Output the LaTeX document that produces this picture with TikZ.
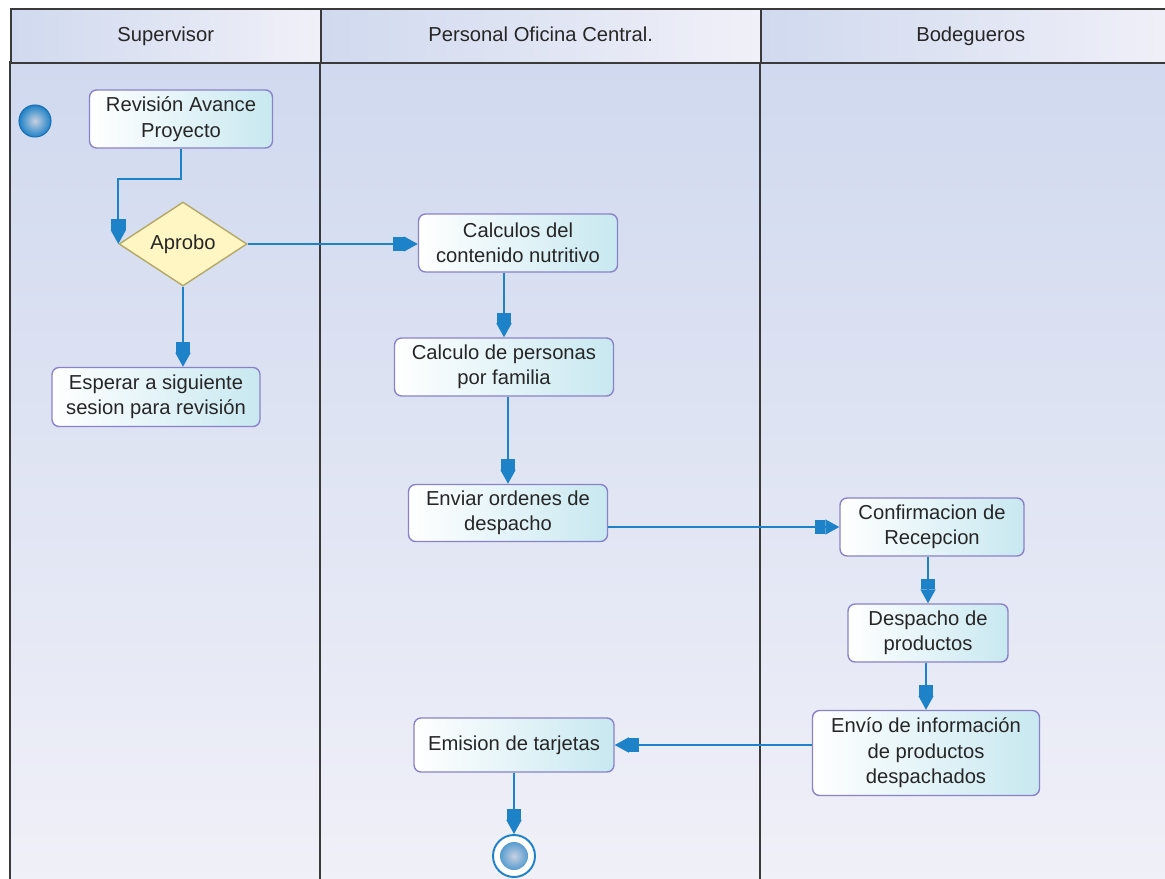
\documentclass[tikz,border=0pt]{standalone}
\usepackage{fontspec}
\setmainfont{Liberation Sans}
\usetikzlibrary{shapes.geometric, arrows.meta, positioning}

\definecolor{laneblue}{HTML}{D0D9EF}
\definecolor{lanepale}{HTML}{F0F0F8}
\definecolor{flowblue}{HTML}{1E82C8}
\definecolor{initedge}{HTML}{1B6FB0}
\definecolor{initlight}{HTML}{C8D0E0}
\definecolor{boxedge}{HTML}{8A82C8}
\definecolor{boxcyan}{HTML}{C8E8F0}
\definecolor{decfill}{HTML}{FFF6C4}
\definecolor{decedge}{HTML}{B4A864}
\definecolor{framegray}{HTML}{3A3A3A}

\begin{document}
\begin{tikzpicture}[
            x=0.02cm, y=-0.02cm,
            every node/.style={font=\fontsize{11.5}{14.5}\selectfont, text=black!85},
            activity/.style={
                rectangle,
                draw=boxedge,
                line width=0.8pt,
                rounded corners=4pt,
                align=center,
                inner sep=2pt,
                left color=white,
                right color=boxcyan
            },
            decision/.style={
                diamond,
                draw=decedge,
                line width=0.8pt,
                fill=decfill,
                minimum width=2.56cm,
                minimum height=1.56cm,
                inner sep=0pt
            },
            header/.style={
                rectangle,
                draw=framegray,
                line width=0.9pt,
                minimum height=1.08cm,
                text height=1.6ex,
                text depth=0.45ex,
                anchor=north west,
                left color=laneblue,
                right color=lanepale
            },
            lane/.style={draw=framegray, line width=0.9pt, top color=laneblue, bottom color=lanepale},
            initial/.style={circle, draw=initedge, line width=0.6pt, inner color=initlight, outer color=flowblue, minimum size=0.64cm, inner sep=0pt},
            final/.style={circle, draw=flowblue, line width=1.1pt, fill=white, minimum size=0.84cm, inner sep=0pt,
                path picture={\shade[inner color=initlight, outer color=flowblue] (path picture bounding box.center) circle (0.28cm);}},
            flow/.style={draw=flowblue, line width=1.1pt, -{Rectangle[length=6pt,width=8.5pt]Triangle[length=8pt,width=8.5pt]}}
        ]
        \useasboundingbox (0,0) rectangle (1165,878);
        \clip (0,0) rectangle (1165,878);
        \fill[white] (0,0) rectangle (1165,878);

        % Lanes
        \path[lane] (10,62) rectangle (320,890);
        \path[lane] (320,62) rectangle (760,890);
        \path[lane] (760,62) rectangle (1180,890);
        \node[header, minimum width=6.2cm] (hsup) at (10,8) {Supervisor};
        \node[header, minimum width=8.8cm] (hofi) at (320,8) {Personal Oficina Central.};
        \node[header, minimum width=8.4cm] (hbod) at (760,8) {Bodegueros};

        % Nodes
        \node[initial] (start) at (35,121) {};
        \node[activity, minimum width=3.66cm, minimum height=1.16cm] (revision) at (181,119) {Revisión Avance\\Proyecto};
        \node[decision] (aprobo) at (183,244) {Aprobo};
        \node[activity, minimum width=4.16cm, minimum height=1.18cm] (esperar) at (156,397) {Esperar a siguiente\\sesion para revisión};
        \node[activity, minimum width=3.98cm, minimum height=1.16cm] (contenido) at (518,243) {Calculos del\\contenido nutritivo};
        \node[activity, minimum width=4.38cm, minimum height=1.16cm] (personas) at (504,367) {Calculo de personas\\por familia};
        \node[activity, minimum width=3.98cm, minimum height=1.14cm] (ordenes) at (508,513) {Enviar ordenes de\\despacho};
        \node[activity, minimum width=3.68cm, minimum height=1.16cm] (confirma) at (932,527) {Confirmacion de\\Recepcion};
        \node[activity, minimum width=3.2cm, minimum height=1.16cm] (despacho) at (928,633) {Despacho de\\productos};
        \node[activity, minimum width=4.54cm, minimum height=1.7cm] (envio) at (926,753) {Envío de información\\de productos\\despachados};
        \node[activity, minimum width=4.0cm, minimum height=1.08cm] (tarjetas) at (514,745) {Emision de tarjetas};
        \node[final] (fin) at (514,856) {};

        % Arrows
        \draw[flow] (revision.south) -- ++(0,30) -| (aprobo.west);
        \draw[flow] (aprobo.south) -- (aprobo.south |- esperar.north);
        \draw[flow] (aprobo.east) -- (aprobo.east -| contenido.west);
        \draw[flow] (personas.north |- contenido.south) -- (personas.north);
        \draw[flow] (ordenes.north |- personas.south) -- (ordenes.north);
        \draw[flow] (ordenes.east |- confirma.west) -- (confirma.west);
        \draw[flow] (despacho.north |- confirma.south) -- (despacho.north);
        \draw[flow] (envio.north |- despacho.south) -- (envio.north);
        \draw[flow] (envio.west |- tarjetas.east) -- (tarjetas.east);
        \draw[flow] (tarjetas.south) -- (fin.north);

        \end{tikzpicture}
\end{document}
